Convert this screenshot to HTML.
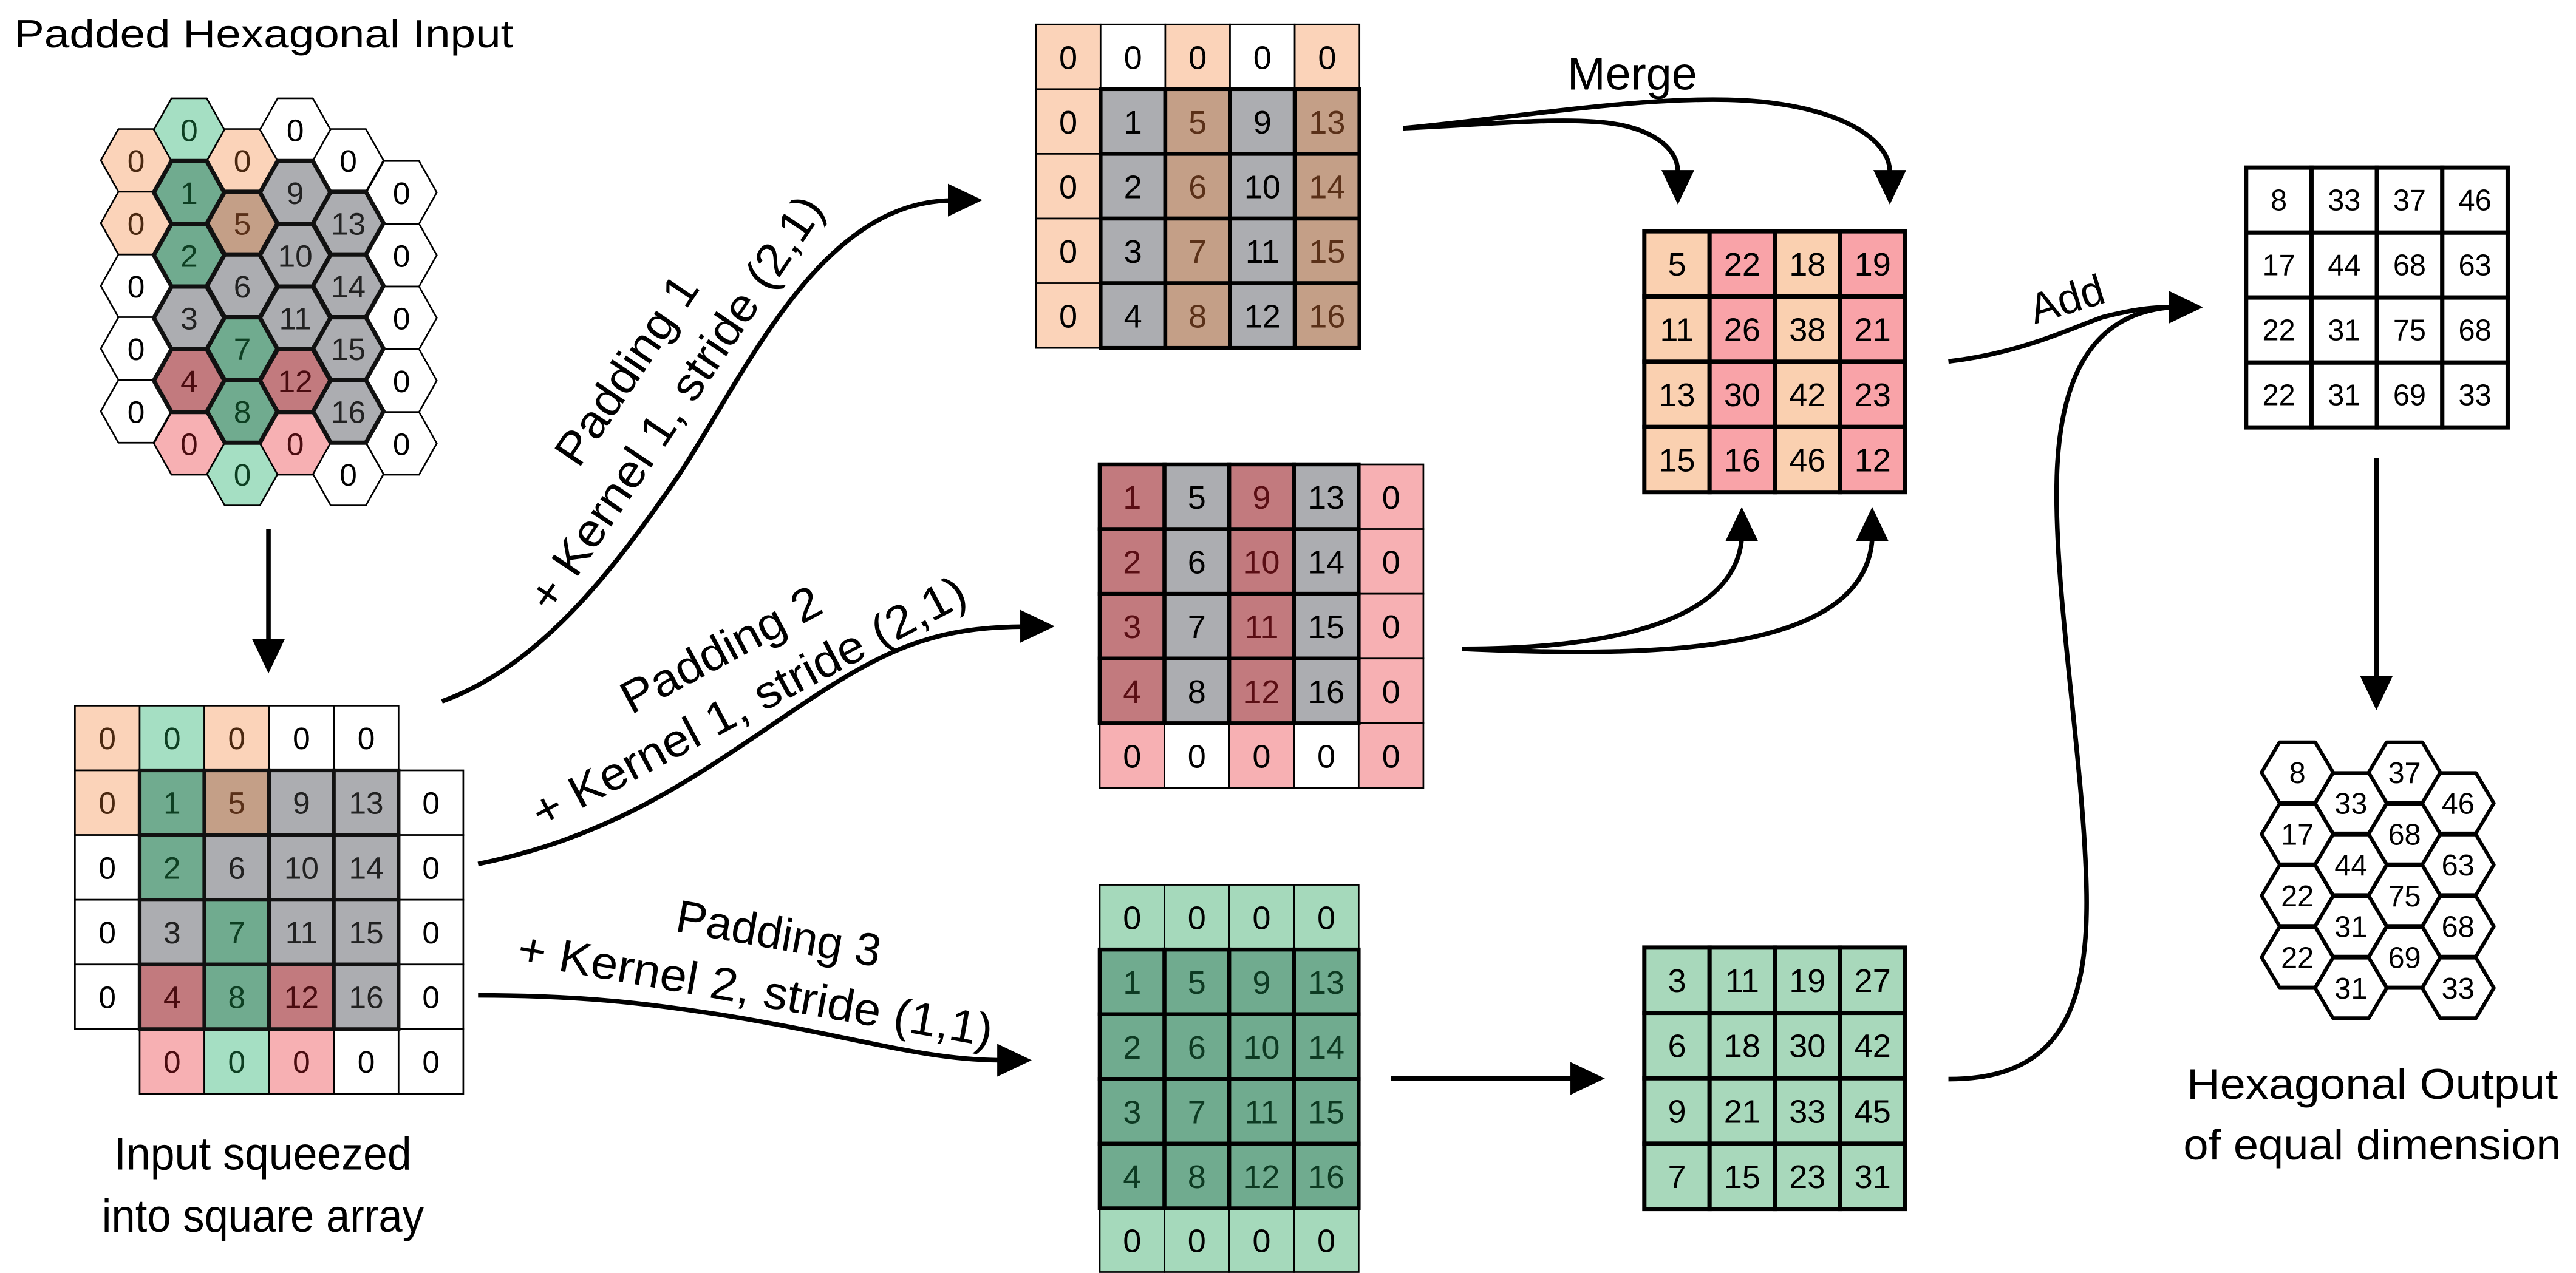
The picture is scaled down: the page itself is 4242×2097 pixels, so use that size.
<!DOCTYPE html>
<html><head><meta charset="utf-8"><style>
html,body{margin:0;padding:0;background:#fff;}
svg{display:block;}
text{font-family:"Liberation Sans",sans-serif;}
</style></head><body>
<svg width="4242" height="2097" viewBox="0 0 1568 775" xmlns="http://www.w3.org/2000/svg">
<defs>
<polygon id="hx" points="-21.45,0 -10.7,-19.1 10.7,-19.1 21.45,0 10.7,19.1 -10.7,19.1"/>
<polygon id="ho" points="-21.8,0 -10.9,-18.4 10.9,-18.4 21.8,0 10.9,18.4 -10.9,18.4"/>
<polygon id="ah" points="0,0 -21,-10 -21,10"/>
</defs>

<!-- Titles -->
<text x="8.5" y="28.7" font-size="24" textLength="304" lengthAdjust="spacingAndGlyphs">Padded Hexagonal Input</text>
<text x="160" y="712" font-size="28" text-anchor="middle" textLength="181" lengthAdjust="spacingAndGlyphs">Input squeezed</text>
<text x="160" y="750" font-size="28" text-anchor="middle" textLength="196" lengthAdjust="spacingAndGlyphs">into square array</text>
<text x="1444" y="669" font-size="26" text-anchor="middle" textLength="226" lengthAdjust="spacingAndGlyphs">Hexagonal Output</text>
<text x="1444" y="706" font-size="26" text-anchor="middle" textLength="230" lengthAdjust="spacingAndGlyphs">of equal dimension</text>
<text x="954" y="54.5" font-size="28" textLength="79" lengthAdjust="spacingAndGlyphs">Merge</text>
<text transform="translate(1258,182) rotate(-17)" x="0" y="9" font-size="26" text-anchor="middle">Add</text>

<!-- rotated labels -->
<g transform="translate(396,235) rotate(-56)" font-size="28" text-anchor="middle">
<text x="0" y="-8" textLength="133" lengthAdjust="spacingAndGlyphs">Padding 1</text>
<text x="0" y="28" textLength="298" lengthAdjust="spacingAndGlyphs">+ Kernel 1, stride (2,1)</text>
</g>
<g transform="translate(447,411) rotate(-28)" font-size="28" text-anchor="middle">
<text x="0" y="-8" textLength="134" lengthAdjust="spacingAndGlyphs">Padding 2</text>
<text x="0" y="28" textLength="295" lengthAdjust="spacingAndGlyphs">+ Kernel 1, stride (2,1)</text>
</g>
<g transform="translate(467,585) rotate(10)" font-size="28" text-anchor="middle">
<text x="4" y="-8" textLength="126" lengthAdjust="spacingAndGlyphs">Padding 3</text>
<text x="-4" y="28" textLength="293" lengthAdjust="spacingAndGlyphs">+ Kernel 2, stride (1,1)</text>
</g>

<!-- Input hex grid -->
<g stroke="#000" stroke-width="1">
<use href="#hx" x="82.8" y="97.6" fill="#fbd3b9"/>
<use href="#hx" x="82.8" y="135.8" fill="#fbd3b9"/>
<use href="#hx" x="82.8" y="174" fill="#fff"/>
<use href="#hx" x="82.8" y="212.2" fill="#fff"/>
<use href="#hx" x="82.8" y="250.4" fill="#fff"/>
<use href="#hx" x="115.1" y="78.9" fill="#a5dfc3"/>
<use href="#hx" x="115.1" y="269.9" fill="#f7b0b3"/>
<use href="#hx" x="147.5" y="97.6" fill="#fbd3b9"/>
<use href="#hx" x="147.5" y="288.6" fill="#a5dfc3"/>
<use href="#hx" x="179.7" y="78.9" fill="#fff"/>
<use href="#hx" x="179.7" y="269.9" fill="#f7b0b3"/>
<use href="#hx" x="212" y="97.6" fill="#fff"/>
<use href="#hx" x="212" y="288.6" fill="#fff"/>
<use href="#hx" x="244.4" y="117.1" fill="#fff"/>
<use href="#hx" x="244.4" y="155.3" fill="#fff"/>
<use href="#hx" x="244.4" y="193.5" fill="#fff"/>
<use href="#hx" x="244.4" y="231.7" fill="#fff"/>
<use href="#hx" x="244.4" y="269.9" fill="#fff"/>
</g>
<g stroke="#111" stroke-width="2.6" stroke-linejoin="round">
<use href="#hx" x="115.1" y="117.1" fill="#70ab8f"/>
<use href="#hx" x="115.1" y="155.3" fill="#70ab8f"/>
<use href="#hx" x="115.1" y="193.5" fill="#acadb1"/>
<use href="#hx" x="115.1" y="231.7" fill="#c27a7e"/>
<use href="#hx" x="147.5" y="135.8" fill="#c49f87"/>
<use href="#hx" x="147.5" y="174" fill="#acadb1"/>
<use href="#hx" x="147.5" y="212.2" fill="#70ab8f"/>
<use href="#hx" x="147.5" y="250.4" fill="#70ab8f"/>
<use href="#hx" x="179.7" y="117.1" fill="#acadb1"/>
<use href="#hx" x="179.7" y="155.3" fill="#acadb1"/>
<use href="#hx" x="179.7" y="193.5" fill="#acadb1"/>
<use href="#hx" x="179.7" y="231.7" fill="#c27a7e"/>
<use href="#hx" x="212" y="135.8" fill="#acadb1"/>
<use href="#hx" x="212" y="174" fill="#acadb1"/>
<use href="#hx" x="212" y="212.2" fill="#acadb1"/>
<use href="#hx" x="212" y="250.4" fill="#acadb1"/>
</g>
<g font-size="19" text-anchor="middle">
<text x="82.8" y="104.6" fill="#4a2810">0</text>
<text x="82.8" y="142.8" fill="#4a2810">0</text>
<text x="82.8" y="181">0</text>
<text x="82.8" y="219.2">0</text>
<text x="82.8" y="257.4">0</text>
<text x="115.1" y="85.9" fill="#0d3f22">0</text>
<text x="115.1" y="124.1" fill="#0d3f22">1</text>
<text x="115.1" y="162.3" fill="#0d3f22">2</text>
<text x="115.1" y="200.5" fill="#222">3</text>
<text x="115.1" y="238.7" fill="#4a0c10">4</text>
<text x="115.1" y="276.9" fill="#4a0c10">0</text>
<text x="147.5" y="104.6" fill="#4a2810">0</text>
<text x="147.5" y="142.8" fill="#5a3018">5</text>
<text x="147.5" y="181" fill="#222">6</text>
<text x="147.5" y="219.2" fill="#0d3f22">7</text>
<text x="147.5" y="257.4" fill="#0d3f22">8</text>
<text x="147.5" y="295.6" fill="#0d3f22">0</text>
<text x="179.7" y="85.9">0</text>
<text x="179.7" y="124.1" fill="#222">9</text>
<text x="179.7" y="162.3" fill="#222">10</text>
<text x="179.7" y="200.5" fill="#222">11</text>
<text x="179.7" y="238.7" fill="#4a0c10">12</text>
<text x="179.7" y="276.9" fill="#4a0c10">0</text>
<text x="212" y="104.6">0</text>
<text x="212" y="142.8" fill="#222">13</text>
<text x="212" y="181" fill="#222">14</text>
<text x="212" y="219.2" fill="#222">15</text>
<text x="212" y="257.4" fill="#222">16</text>
<text x="212" y="295.6">0</text>
<text x="244.4" y="124.1">0</text>
<text x="244.4" y="162.3">0</text>
<text x="244.4" y="200.5">0</text>
<text x="244.4" y="238.7">0</text>
<text x="244.4" y="276.9">0</text>
</g>

<!-- Square array -->
<g stroke="#000" stroke-width="1">
<rect x="45.6" y="429.6" width="39.4" height="39.4" fill="#fbd3b9"/>
<rect x="85" y="429.6" width="39.4" height="39.4" fill="#a5dfc3"/>
<rect x="124.4" y="429.6" width="39.4" height="39.4" fill="#fbd3b9"/>
<rect x="163.8" y="429.6" width="39.4" height="39.4" fill="#fff"/>
<rect x="203.2" y="429.6" width="39.4" height="39.4" fill="#fff"/>
<rect x="45.6" y="469" width="39.4" height="39.4" fill="#fbd3b9"/>
<rect x="45.6" y="508.4" width="39.4" height="39.4" fill="#fff"/>
<rect x="45.6" y="547.8" width="39.4" height="39.4" fill="#fff"/>
<rect x="45.6" y="587.2" width="39.4" height="39.4" fill="#fff"/>
<rect x="242.6" y="469" width="39.4" height="39.4" fill="#fff"/>
<rect x="242.6" y="508.4" width="39.4" height="39.4" fill="#fff"/>
<rect x="242.6" y="547.8" width="39.4" height="39.4" fill="#fff"/>
<rect x="242.6" y="587.2" width="39.4" height="39.4" fill="#fff"/>
<rect x="85" y="626.6" width="39.4" height="39.4" fill="#f7b0b3"/>
<rect x="124.4" y="626.6" width="39.4" height="39.4" fill="#a5dfc3"/>
<rect x="163.8" y="626.6" width="39.4" height="39.4" fill="#f7b0b3"/>
<rect x="203.2" y="626.6" width="39.4" height="39.4" fill="#fff"/>
<rect x="242.6" y="626.6" width="39.4" height="39.4" fill="#fff"/>
</g>
<g stroke="#111" stroke-width="2.3">
<rect x="85" y="469" width="39.4" height="39.4" fill="#70ab8f"/>
<rect x="124.4" y="469" width="39.4" height="39.4" fill="#c49f87"/>
<rect x="163.8" y="469" width="39.4" height="39.4" fill="#acadb1"/>
<rect x="203.2" y="469" width="39.4" height="39.4" fill="#acadb1"/>
<rect x="85" y="508.4" width="39.4" height="39.4" fill="#70ab8f"/>
<rect x="124.4" y="508.4" width="39.4" height="39.4" fill="#acadb1"/>
<rect x="163.8" y="508.4" width="39.4" height="39.4" fill="#acadb1"/>
<rect x="203.2" y="508.4" width="39.4" height="39.4" fill="#acadb1"/>
<rect x="85" y="547.8" width="39.4" height="39.4" fill="#acadb1"/>
<rect x="124.4" y="547.8" width="39.4" height="39.4" fill="#70ab8f"/>
<rect x="163.8" y="547.8" width="39.4" height="39.4" fill="#acadb1"/>
<rect x="203.2" y="547.8" width="39.4" height="39.4" fill="#acadb1"/>
<rect x="85" y="587.2" width="39.4" height="39.4" fill="#c27a7e"/>
<rect x="124.4" y="587.2" width="39.4" height="39.4" fill="#70ab8f"/>
<rect x="163.8" y="587.2" width="39.4" height="39.4" fill="#c27a7e"/>
<rect x="203.2" y="587.2" width="39.4" height="39.4" fill="#acadb1"/>
</g>
<g font-size="19" text-anchor="middle">
<text x="65.3" y="456.1" fill="#4a2810">0</text>
<text x="104.7" y="456.1" fill="#0d3f22">0</text>
<text x="144.1" y="456.1" fill="#4a2810">0</text>
<text x="183.5" y="456.1">0</text>
<text x="222.9" y="456.1">0</text>
<text x="65.3" y="495.5" fill="#4a2810">0</text>
<text x="104.7" y="495.5" fill="#0d3f22">1</text>
<text x="144.1" y="495.5" fill="#5a3018">5</text>
<text x="183.5" y="495.5" fill="#222">9</text>
<text x="222.9" y="495.5" fill="#222">13</text>
<text x="262.3" y="495.5">0</text>
<text x="65.3" y="534.9">0</text>
<text x="104.7" y="534.9" fill="#0d3f22">2</text>
<text x="144.1" y="534.9" fill="#222">6</text>
<text x="183.5" y="534.9" fill="#222">10</text>
<text x="222.9" y="534.9" fill="#222">14</text>
<text x="262.3" y="534.9">0</text>
<text x="65.3" y="574.3">0</text>
<text x="104.7" y="574.3" fill="#222">3</text>
<text x="144.1" y="574.3" fill="#0d3f22">7</text>
<text x="183.5" y="574.3" fill="#222">11</text>
<text x="222.9" y="574.3" fill="#222">15</text>
<text x="262.3" y="574.3">0</text>
<text x="65.3" y="613.7">0</text>
<text x="104.7" y="613.7" fill="#4a0c10">4</text>
<text x="144.1" y="613.7" fill="#0d3f22">8</text>
<text x="183.5" y="613.7" fill="#4a0c10">12</text>
<text x="222.9" y="613.7" fill="#222">16</text>
<text x="262.3" y="613.7">0</text>
<text x="104.7" y="653.1" fill="#4a0c10">0</text>
<text x="144.1" y="653.1" fill="#0d3f22">0</text>
<text x="183.5" y="653.1" fill="#4a0c10">0</text>
<text x="222.9" y="653.1">0</text>
<text x="262.3" y="653.1">0</text>
</g>

<!-- Matrix A (padding 1) -->
<g stroke="#000" stroke-width="1">
<rect x="630.5" y="14.8" width="39.4" height="39.4" fill="#fbd3b9"/>
<rect x="669.9" y="14.8" width="39.4" height="39.4" fill="#fff"/>
<rect x="709.3" y="14.8" width="39.4" height="39.4" fill="#fbd3b9"/>
<rect x="748.7" y="14.8" width="39.4" height="39.4" fill="#fff"/>
<rect x="788.1" y="14.8" width="39.4" height="39.4" fill="#fbd3b9"/>
<rect x="630.5" y="54.2" width="39.4" height="39.4" fill="#fbd3b9"/>
<rect x="630.5" y="93.6" width="39.4" height="39.4" fill="#fbd3b9"/>
<rect x="630.5" y="133" width="39.4" height="39.4" fill="#fbd3b9"/>
<rect x="630.5" y="172.4" width="39.4" height="39.4" fill="#fbd3b9"/>
</g>
<g stroke="#000" stroke-width="2.4">
<rect x="669.9" y="54.2" width="39.4" height="39.4" fill="#acadb1"/>
<rect x="709.3" y="54.2" width="39.4" height="39.4" fill="#c49f87"/>
<rect x="748.7" y="54.2" width="39.4" height="39.4" fill="#acadb1"/>
<rect x="788.1" y="54.2" width="39.4" height="39.4" fill="#c49f87"/>
<rect x="669.9" y="93.6" width="39.4" height="39.4" fill="#acadb1"/>
<rect x="709.3" y="93.6" width="39.4" height="39.4" fill="#c49f87"/>
<rect x="748.7" y="93.6" width="39.4" height="39.4" fill="#acadb1"/>
<rect x="788.1" y="93.6" width="39.4" height="39.4" fill="#c49f87"/>
<rect x="669.9" y="133" width="39.4" height="39.4" fill="#acadb1"/>
<rect x="709.3" y="133" width="39.4" height="39.4" fill="#c49f87"/>
<rect x="748.7" y="133" width="39.4" height="39.4" fill="#acadb1"/>
<rect x="788.1" y="133" width="39.4" height="39.4" fill="#c49f87"/>
<rect x="669.9" y="172.4" width="39.4" height="39.4" fill="#acadb1"/>
<rect x="709.3" y="172.4" width="39.4" height="39.4" fill="#c49f87"/>
<rect x="748.7" y="172.4" width="39.4" height="39.4" fill="#acadb1"/>
<rect x="788.1" y="172.4" width="39.4" height="39.4" fill="#c49f87"/>
</g>
<g font-size="20" text-anchor="middle">
<text x="650.2" y="41.8">0</text><text x="689.6" y="41.8">0</text><text x="729" y="41.8">0</text><text x="768.4" y="41.8">0</text><text x="807.8" y="41.8">0</text>
<text x="650.2" y="81.2">0</text><text x="689.6" y="81.2">1</text><text x="729" y="81.2" fill="#5a3018">5</text><text x="768.4" y="81.2">9</text><text x="807.8" y="81.2" fill="#5a3018">13</text>
<text x="650.2" y="120.6">0</text><text x="689.6" y="120.6">2</text><text x="729" y="120.6" fill="#5a3018">6</text><text x="768.4" y="120.6">10</text><text x="807.8" y="120.6" fill="#5a3018">14</text>
<text x="650.2" y="160">0</text><text x="689.6" y="160">3</text><text x="729" y="160" fill="#5a3018">7</text><text x="768.4" y="160">11</text><text x="807.8" y="160" fill="#5a3018">15</text>
<text x="650.2" y="199.4">0</text><text x="689.6" y="199.4">4</text><text x="729" y="199.4" fill="#5a3018">8</text><text x="768.4" y="199.4">12</text><text x="807.8" y="199.4" fill="#5a3018">16</text>
</g>

<!-- Matrix B (padding 2) -->
<g stroke="#000" stroke-width="1">
<rect x="827" y="282.7" width="39.4" height="39.4" fill="#f7b0b3"/>
<rect x="827" y="322.1" width="39.4" height="39.4" fill="#f7b0b3"/>
<rect x="827" y="361.5" width="39.4" height="39.4" fill="#f7b0b3"/>
<rect x="827" y="400.9" width="39.4" height="39.4" fill="#f7b0b3"/>
<rect x="669.4" y="440.3" width="39.4" height="39.4" fill="#f7b0b3"/>
<rect x="708.8" y="440.3" width="39.4" height="39.4" fill="#fff"/>
<rect x="748.2" y="440.3" width="39.4" height="39.4" fill="#f7b0b3"/>
<rect x="787.6" y="440.3" width="39.4" height="39.4" fill="#fff"/>
<rect x="827" y="440.3" width="39.4" height="39.4" fill="#f7b0b3"/>
</g>
<g stroke="#000" stroke-width="2.4">
<rect x="669.4" y="282.7" width="39.4" height="39.4" fill="#c27a7e"/>
<rect x="708.8" y="282.7" width="39.4" height="39.4" fill="#acadb1"/>
<rect x="748.2" y="282.7" width="39.4" height="39.4" fill="#c27a7e"/>
<rect x="787.6" y="282.7" width="39.4" height="39.4" fill="#acadb1"/>
<rect x="669.4" y="322.1" width="39.4" height="39.4" fill="#c27a7e"/>
<rect x="708.8" y="322.1" width="39.4" height="39.4" fill="#acadb1"/>
<rect x="748.2" y="322.1" width="39.4" height="39.4" fill="#c27a7e"/>
<rect x="787.6" y="322.1" width="39.4" height="39.4" fill="#acadb1"/>
<rect x="669.4" y="361.5" width="39.4" height="39.4" fill="#c27a7e"/>
<rect x="708.8" y="361.5" width="39.4" height="39.4" fill="#acadb1"/>
<rect x="748.2" y="361.5" width="39.4" height="39.4" fill="#c27a7e"/>
<rect x="787.6" y="361.5" width="39.4" height="39.4" fill="#acadb1"/>
<rect x="669.4" y="400.9" width="39.4" height="39.4" fill="#c27a7e"/>
<rect x="708.8" y="400.9" width="39.4" height="39.4" fill="#acadb1"/>
<rect x="748.2" y="400.9" width="39.4" height="39.4" fill="#c27a7e"/>
<rect x="787.6" y="400.9" width="39.4" height="39.4" fill="#acadb1"/>
</g>
<g font-size="20" text-anchor="middle">
<text x="689.1" y="309.7" fill="#5a0e14">1</text><text x="728.5" y="309.7">5</text><text x="767.9" y="309.7" fill="#5a0e14">9</text><text x="807.3" y="309.7">13</text><text x="846.7" y="309.7">0</text>
<text x="689.1" y="349.1" fill="#5a0e14">2</text><text x="728.5" y="349.1">6</text><text x="767.9" y="349.1" fill="#5a0e14">10</text><text x="807.3" y="349.1">14</text><text x="846.7" y="349.1">0</text>
<text x="689.1" y="388.5" fill="#5a0e14">3</text><text x="728.5" y="388.5">7</text><text x="767.9" y="388.5" fill="#5a0e14">11</text><text x="807.3" y="388.5">15</text><text x="846.7" y="388.5">0</text>
<text x="689.1" y="427.9" fill="#5a0e14">4</text><text x="728.5" y="427.9">8</text><text x="767.9" y="427.9" fill="#5a0e14">12</text><text x="807.3" y="427.9">16</text><text x="846.7" y="427.9">0</text>
<text x="689.1" y="467.3">0</text><text x="728.5" y="467.3">0</text><text x="767.9" y="467.3">0</text><text x="807.3" y="467.3">0</text><text x="846.7" y="467.3">0</text>
</g>

<!-- Matrix C (padding 3) -->
<g stroke="#000" stroke-width="1" fill="#a5d9bb">
<rect x="669.4" y="538.7" width="39.4" height="39.4"/>
<rect x="708.8" y="538.7" width="39.4" height="39.4"/>
<rect x="748.2" y="538.7" width="39.4" height="39.4"/>
<rect x="787.6" y="538.7" width="39.4" height="39.4"/>
<rect x="669.4" y="735.7" width="39.4" height="38.8"/>
<rect x="708.8" y="735.7" width="39.4" height="38.8"/>
<rect x="748.2" y="735.7" width="39.4" height="38.8"/>
<rect x="787.6" y="735.7" width="39.4" height="38.8"/>
</g>
<g stroke="#000" stroke-width="2.4" fill="#70ab8f">
<rect x="669.4" y="578.1" width="39.4" height="39.4"/><rect x="708.8" y="578.1" width="39.4" height="39.4"/><rect x="748.2" y="578.1" width="39.4" height="39.4"/><rect x="787.6" y="578.1" width="39.4" height="39.4"/>
<rect x="669.4" y="617.5" width="39.4" height="39.4"/><rect x="708.8" y="617.5" width="39.4" height="39.4"/><rect x="748.2" y="617.5" width="39.4" height="39.4"/><rect x="787.6" y="617.5" width="39.4" height="39.4"/>
<rect x="669.4" y="656.9" width="39.4" height="39.4"/><rect x="708.8" y="656.9" width="39.4" height="39.4"/><rect x="748.2" y="656.9" width="39.4" height="39.4"/><rect x="787.6" y="656.9" width="39.4" height="39.4"/>
<rect x="669.4" y="696.3" width="39.4" height="39.4"/><rect x="708.8" y="696.3" width="39.4" height="39.4"/><rect x="748.2" y="696.3" width="39.4" height="39.4"/><rect x="787.6" y="696.3" width="39.4" height="39.4"/>
</g>
<g font-size="20" text-anchor="middle">
<text x="689.1" y="565.7">0</text><text x="728.5" y="565.7">0</text><text x="767.9" y="565.7">0</text><text x="807.3" y="565.7">0</text>
<g fill="#0d3a22">
<text x="689.1" y="605.1">1</text><text x="728.5" y="605.1">5</text><text x="767.9" y="605.1">9</text><text x="807.3" y="605.1">13</text>
<text x="689.1" y="644.5">2</text><text x="728.5" y="644.5">6</text><text x="767.9" y="644.5">10</text><text x="807.3" y="644.5">14</text>
<text x="689.1" y="683.9">3</text><text x="728.5" y="683.9">7</text><text x="767.9" y="683.9">11</text><text x="807.3" y="683.9">15</text>
<text x="689.1" y="723.3">4</text><text x="728.5" y="723.3">8</text><text x="767.9" y="723.3">12</text><text x="807.3" y="723.3">16</text>
</g>
<text x="689.1" y="762.4">0</text><text x="728.5" y="762.4">0</text><text x="767.9" y="762.4">0</text><text x="807.3" y="762.4">0</text>
</g>

<!-- Merged matrix M -->
<g stroke="#000" stroke-width="2.6">
<rect x="1000.9" y="140.8" width="39.7" height="39.7" fill="#fad0b0"/><rect x="1040.6" y="140.8" width="39.7" height="39.7" fill="#f9a3a8"/><rect x="1080.3" y="140.8" width="39.7" height="39.7" fill="#fad0b0"/><rect x="1120" y="140.8" width="39.7" height="39.7" fill="#f9a3a8"/>
<rect x="1000.9" y="180.5" width="39.7" height="39.7" fill="#fad0b0"/><rect x="1040.6" y="180.5" width="39.7" height="39.7" fill="#f9a3a8"/><rect x="1080.3" y="180.5" width="39.7" height="39.7" fill="#fad0b0"/><rect x="1120" y="180.5" width="39.7" height="39.7" fill="#f9a3a8"/>
<rect x="1000.9" y="220.2" width="39.7" height="39.7" fill="#fad0b0"/><rect x="1040.6" y="220.2" width="39.7" height="39.7" fill="#f9a3a8"/><rect x="1080.3" y="220.2" width="39.7" height="39.7" fill="#fad0b0"/><rect x="1120" y="220.2" width="39.7" height="39.7" fill="#f9a3a8"/>
<rect x="1000.9" y="259.9" width="39.7" height="39.7" fill="#fad0b0"/><rect x="1040.6" y="259.9" width="39.7" height="39.7" fill="#f9a3a8"/><rect x="1080.3" y="259.9" width="39.7" height="39.7" fill="#fad0b0"/><rect x="1120" y="259.9" width="39.7" height="39.7" fill="#f9a3a8"/>
</g>
<g font-size="20" text-anchor="middle">
<text x="1020.75" y="167.8">5</text><text x="1060.45" y="167.8">22</text><text x="1100.15" y="167.8">18</text><text x="1139.85" y="167.8">19</text>
<text x="1020.75" y="207.5">11</text><text x="1060.45" y="207.5">26</text><text x="1100.15" y="207.5">38</text><text x="1139.85" y="207.5">21</text>
<text x="1020.75" y="247.2">13</text><text x="1060.45" y="247.2">30</text><text x="1100.15" y="247.2">42</text><text x="1139.85" y="247.2">23</text>
<text x="1020.75" y="286.9">15</text><text x="1060.45" y="286.9">16</text><text x="1100.15" y="286.9">46</text><text x="1139.85" y="286.9">12</text>
</g>

<!-- Green result G -->
<g stroke="#000" stroke-width="2.6" fill="#a8d8bb">
<rect x="1000.9" y="576.9" width="39.7" height="39.8"/><rect x="1040.6" y="576.9" width="39.7" height="39.8"/><rect x="1080.3" y="576.9" width="39.7" height="39.8"/><rect x="1120" y="576.9" width="39.7" height="39.8"/>
<rect x="1000.9" y="616.7" width="39.7" height="39.8"/><rect x="1040.6" y="616.7" width="39.7" height="39.8"/><rect x="1080.3" y="616.7" width="39.7" height="39.8"/><rect x="1120" y="616.7" width="39.7" height="39.8"/>
<rect x="1000.9" y="656.5" width="39.7" height="39.8"/><rect x="1040.6" y="656.5" width="39.7" height="39.8"/><rect x="1080.3" y="656.5" width="39.7" height="39.8"/><rect x="1120" y="656.5" width="39.7" height="39.8"/>
<rect x="1000.9" y="696.3" width="39.7" height="39.8"/><rect x="1040.6" y="696.3" width="39.7" height="39.8"/><rect x="1080.3" y="696.3" width="39.7" height="39.8"/><rect x="1120" y="696.3" width="39.7" height="39.8"/>
</g>
<g font-size="20" text-anchor="middle">
<text x="1020.75" y="603.9">3</text><text x="1060.45" y="603.9">11</text><text x="1100.15" y="603.9">19</text><text x="1139.85" y="603.9">27</text>
<text x="1020.75" y="643.7">6</text><text x="1060.45" y="643.7">18</text><text x="1100.15" y="643.7">30</text><text x="1139.85" y="643.7">42</text>
<text x="1020.75" y="683.5">9</text><text x="1060.45" y="683.5">21</text><text x="1100.15" y="683.5">33</text><text x="1139.85" y="683.5">45</text>
<text x="1020.75" y="723.3">7</text><text x="1060.45" y="723.3">15</text><text x="1100.15" y="723.3">23</text><text x="1139.85" y="723.3">31</text>
</g>

<!-- Output matrix O -->
<g stroke="#000" stroke-width="2.6" fill="#fff">
<rect x="1367.2" y="102" width="39.8" height="39.6"/><rect x="1407" y="102" width="39.8" height="39.6"/><rect x="1446.8" y="102" width="39.8" height="39.6"/><rect x="1486.6" y="102" width="39.8" height="39.6"/>
<rect x="1367.2" y="141.6" width="39.8" height="39.5"/><rect x="1407" y="141.6" width="39.8" height="39.5"/><rect x="1446.8" y="141.6" width="39.8" height="39.5"/><rect x="1486.6" y="141.6" width="39.8" height="39.5"/>
<rect x="1367.2" y="181.1" width="39.8" height="39.6"/><rect x="1407" y="181.1" width="39.8" height="39.6"/><rect x="1446.8" y="181.1" width="39.8" height="39.6"/><rect x="1486.6" y="181.1" width="39.8" height="39.6"/>
<rect x="1367.2" y="220.7" width="39.8" height="39.5"/><rect x="1407" y="220.7" width="39.8" height="39.5"/><rect x="1446.8" y="220.7" width="39.8" height="39.5"/><rect x="1486.6" y="220.7" width="39.8" height="39.5"/>
</g>
<g font-size="18" text-anchor="middle">
<text x="1387.1" y="128">8</text><text x="1426.9" y="128">33</text><text x="1466.7" y="128">37</text><text x="1506.5" y="128">46</text>
<text x="1387.1" y="167.6">17</text><text x="1426.9" y="167.6">44</text><text x="1466.7" y="167.6">68</text><text x="1506.5" y="167.6">63</text>
<text x="1387.1" y="207.1">22</text><text x="1426.9" y="207.1">31</text><text x="1466.7" y="207.1">75</text><text x="1506.5" y="207.1">68</text>
<text x="1387.1" y="246.7">22</text><text x="1426.9" y="246.7">31</text><text x="1466.7" y="246.7">69</text><text x="1506.5" y="246.7">33</text>
</g>

<!-- Output hexes -->
<g stroke="#000" stroke-width="2.2" fill="#fff" stroke-linejoin="round">
<use href="#ho" x="1398.4" y="470.3"/><use href="#ho" x="1398.4" y="507.8"/><use href="#ho" x="1398.4" y="545.3"/><use href="#ho" x="1398.4" y="582.8"/>
<use href="#ho" x="1431" y="489"/><use href="#ho" x="1431" y="526.5"/><use href="#ho" x="1431" y="564"/><use href="#ho" x="1431" y="601.5"/>
<use href="#ho" x="1463.6" y="470.3"/><use href="#ho" x="1463.6" y="507.8"/><use href="#ho" x="1463.6" y="545.3"/><use href="#ho" x="1463.6" y="582.8"/>
<use href="#ho" x="1496.2" y="489"/><use href="#ho" x="1496.2" y="526.5"/><use href="#ho" x="1496.2" y="564"/><use href="#ho" x="1496.2" y="601.5"/>
</g>
<g font-size="18" text-anchor="middle">
<text x="1398.4" y="476.8">8</text><text x="1398.4" y="514.3">17</text><text x="1398.4" y="551.8">22</text><text x="1398.4" y="589.3">22</text>
<text x="1431" y="495.5">33</text><text x="1431" y="533">44</text><text x="1431" y="570.5">31</text><text x="1431" y="608">31</text>
<text x="1463.6" y="476.8">37</text><text x="1463.6" y="514.3">68</text><text x="1463.6" y="551.8">75</text><text x="1463.6" y="589.3">69</text>
<text x="1496.2" y="495.5">46</text><text x="1496.2" y="533">63</text><text x="1496.2" y="570.5">68</text><text x="1496.2" y="608">33</text>
</g>

<!-- Connectors -->
<g fill="none" stroke="#000" stroke-width="2.8">
<line x1="163.4" y1="322" x2="163.4" y2="392"/>
<path d="M269,427 C330,405 375,345 414,288 C455,225 500,122 580,122"/>
<path d="M291,526 C370,510 420,475 466,444 C530,400 560,382 622,381.5"/>
<path d="M291,606 C360,606 400,612 440,618 C520,631 560,645 608,645.5"/>
<path d="M854,78 C900,76 940,72 970,74 C1005,76 1021,90 1021.3,104"/>
<path d="M854,78 C920,72 1000,58 1060,61 C1120,64 1150,85 1150.3,104"/>
<path d="M890,395 C960,395 1055,385 1060.2,328"/>
<path d="M890,395 C1000,400 1135,400 1139.6,328"/>
<line x1="846.6" y1="656.6" x2="957" y2="656.6"/>
<path d="M1186,220 C1230,215 1260,200 1280,193 C1300,188 1310,187 1322,187"/>
<path d="M1186,657 C1250,657 1272,620 1270,540 C1268,460 1250,360 1252,290 C1254,220 1280,190 1322,187"/>
<line x1="1446.5" y1="279" x2="1446.5" y2="412"/>
</g>
<g fill="#000">
<use href="#ah" transform="translate(163.4,410) rotate(90)"/>
<use href="#ah" transform="translate(598,121.8)"/>
<use href="#ah" transform="translate(642,381.3)"/>
<use href="#ah" transform="translate(628,645.5)"/>
<use href="#ah" transform="translate(1021.3,124.5) rotate(90)"/>
<use href="#ah" transform="translate(1150.3,124.5) rotate(90)"/>
<use href="#ah" transform="translate(1060.2,308.6) rotate(-90)"/>
<use href="#ah" transform="translate(1139.6,308.6) rotate(-90)"/>
<use href="#ah" transform="translate(976.9,656.6)"/>
<use href="#ah" transform="translate(1341,187)"/>
<use href="#ah" transform="translate(1446.5,432.4) rotate(90)"/>
</g>
</svg>
</body></html>
